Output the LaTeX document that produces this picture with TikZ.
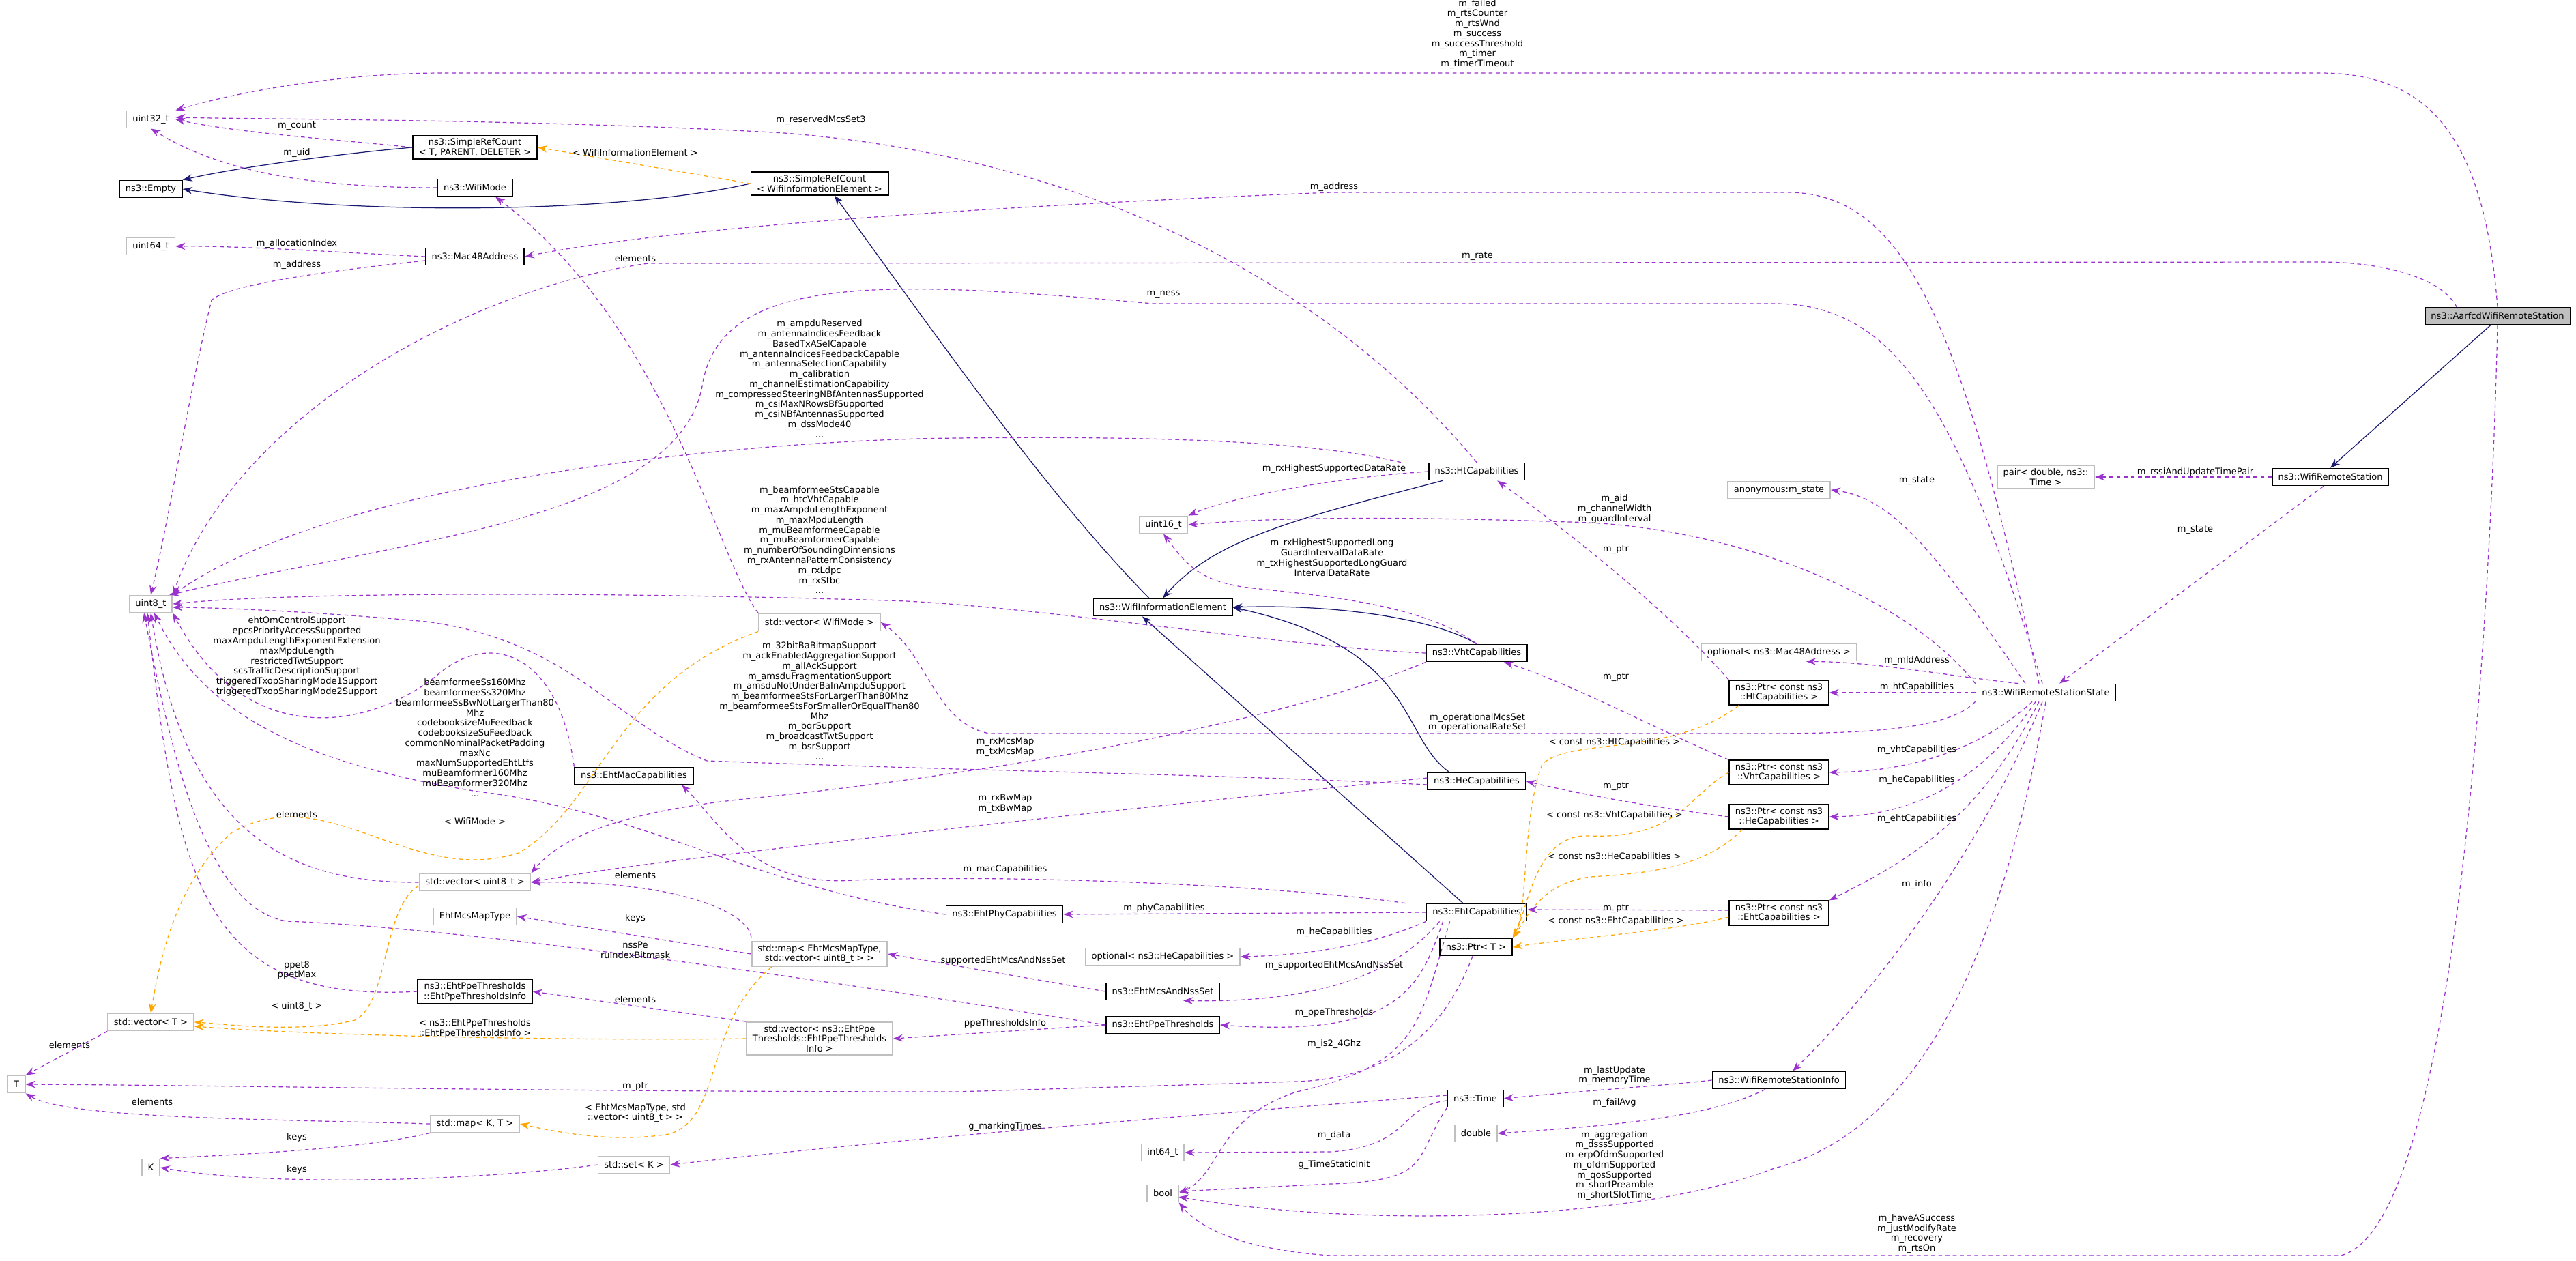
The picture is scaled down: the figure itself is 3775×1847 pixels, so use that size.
\documentclass[tikz,border=0pt]{standalone}
\usepackage{fontspec}
\setmainfont{DejaVu Sans}
\usetikzlibrary{arrows.meta}
\newcommand\fs{\fontsize{3.7}{4.2}\selectfont}
\definecolor{mpurple}{HTML}{9A32CD}
\definecolor{mnavy}{HTML}{191970}
\definecolor{morange}{HTML}{FFA500}
\definecolor{mgrayb}{HTML}{BFBFBF}
\tikzset{
 cls/.style={draw=black, line width=0.5pt, fill=white, font=\fs, align=center, inner xsep=2.5pt, inner ysep=1.2pt, minimum height=0.25cm},
 ext/.style={cls, draw=mgrayb},
 lbl/.style={font=\fs, align=center, inner sep=0pt},
 mem/.style={draw=mpurple, line width=0.35pt, dash pattern=on 1.6pt off 1.4pt, -{Stealth[length=4pt,width=3pt]}},
 inh/.style={draw=mnavy, line width=0.35pt, -{Stealth[length=4pt,width=3pt]}},
 tpl/.style={draw=morange, line width=0.35pt, dash pattern=on 1.6pt off 1.4pt, -{Stealth[length=4pt,width=3pt]}},
}
\begin{document}
\begin{tikzpicture}[x=0.01cm,y=-0.01cm]
\useasboundingbox (0,0) rectangle (3775,1847);
% nodes
\node[ext] (u32) at (221,175) {uint32\_t};
\node[cls] (empty) at (221,277) {ns3::Empty};
\node[cls] (srcT) at (696,216) {ns3::SimpleRefCount\\< T, PARENT, DELETER >};
\node[cls] (wmode) at (696,275) {ns3::WifiMode};
\node[cls] (srcW) at (1201,269) {ns3::SimpleRefCount\\< WifiInformationElement >};
\node[ext] (u64) at (221,361) {uint64\_t};
\node[cls] (mac) at (696,376) {ns3::Mac48Address};
\node[ext] (u8) at (221,885) {uint8\_t};
\node[ext] (u16) at (1705,769) {uint16\_t};
\node[cls] (ht) at (2164,691) {ns3::HtCapabilities};
\node[cls] (wie) at (1704,890) {ns3::WifiInformationElement};
\node[ext] (vecWM) at (1201,912) {std::vector< WifiMode >};
\node[cls] (ehtmac) at (929,1137) {ns3::EhtMacCapabilities};
\node[cls] (vht) at (2164,957) {ns3::VhtCapabilities};
\node[cls] (he) at (2164,1145) {ns3::HeCapabilities};
\node[ext] (vecU8) at (696,1293) {std::vector< uint8\_t >};
\node[ext] (mcsType) at (696,1343) {EhtMcsMapType};
\node[ext] (mapMcs) at (1201,1398) {std::map< EhtMcsMapType,\\std::vector< uint8\_t > >};
\node[cls] (ehtphy) at (1472,1340) {ns3::EhtPhyCapabilities};
\node[cls] (eht) at (2164,1337) {ns3::EhtCapabilities};
\node[ext] (optHe) at (1704,1402) {optional< ns3::HeCapabilities >};
\node[cls] (mcsNss) at (1704,1453) {ns3::EhtMcsAndNssSet};
\node[cls] (ppe) at (1704,1502) {ns3::EhtPpeThresholds};
\node[cls] (ppeInfo) at (696,1453) {ns3::EhtPpeThresholds\\::EhtPpeThresholdsInfo};
\node[ext] (vecT) at (221,1498) {std::vector< T >};
\node[ext] (vecPpe) at (1201,1522) {std::vector< ns3::EhtPpe\\Thresholds::EhtPpeThresholds\\Info >};
\node[ext] (T) at (24,1589) {T};
\node[ext] (mapKT) at (696,1647) {std::map< K, T >};
\node[ext] (K) at (221,1711) {K};
\node[ext] (setK) at (929,1707) {std::set< K >};
\node[cls] (ptrT) at (2163,1388) {ns3::Ptr< T >};
\node[cls] (time) at (2162,1610) {ns3::Time};
\node[ext] (dbl) at (2163,1661) {double};
\node[ext] (i64) at (1704,1689) {int64\_t};
\node[ext] (bool) at (1704,1749) {bool};
\node[ext] (anon) at (2607,718) {anonymous:m\_state};
\node[ext] (optMac) at (2607,956) {optional< ns3::Mac48Address >};
\node[cls] (pHt) at (2607,1015) {ns3::Ptr< const ns3\\::HtCapabilities >};
\node[cls] (pVht) at (2607,1132) {ns3::Ptr< const ns3\\::VhtCapabilities >};
\node[cls] (pHe) at (2607,1197) {ns3::Ptr< const ns3\\::HeCapabilities >};
\node[cls] (pEht) at (2607,1338) {ns3::Ptr< const ns3\\::EhtCapabilities >};
\node[cls] (info) at (2607,1583) {ns3::WifiRemoteStationInfo};
\node[cls] (wrss) at (2998,1015) {ns3::WifiRemoteStationState};
\node[ext] (pair) at (2998,699) {pair< double, ns3::\\Time >};
\node[cls] (wrs) at (3415,699) {ns3::WifiRemoteStation};
\node[cls, fill=mgrayb] (aarf) at (3660,463) {ns3::AarfcdWifiRemoteStation};

% inheritance
\draw[inh] (srcT.west) .. controls (500,225) and (350,245) .. (empty.north east);
\draw[inh] (srcW.west) .. controls (900,315) and (500,315) .. (empty.east);
\draw[inh] ([xshift=-0.2cm]wie.north) .. controls (1550,740) and (1420,560) .. ([xshift=0.22cm]srcW.south);
\draw[inh] ([xshift=-0.5cm]ht.south) .. controls (1900,760) and (1780,790) .. (wie.north);
\draw[inh] (vht.north) .. controls (2100,905) and (1950,885) .. (wie.east);
\draw[inh] ([xshift=-0.4cm]he.north) .. controls (2050,1080) and (2080,950) .. (wie.east);
\draw[inh] ([xshift=-0.2cm]eht.north) -- ([xshift=-0.3cm]wie.south);
\draw[inh] ([xshift=-0.1cm]aarf.south) -- (wrs.north);

% template instantiations
\draw[tpl] (srcW.west) -- (srcT.east);
\node[lbl] at (931,224) {< WifiInformationElement >};
\draw[tpl] (vecWM.south west) .. controls (900,1000) and (880,1180) .. (760,1250) .. controls (600,1300) and (480,1140) .. (340,1220) .. controls (260,1290) and (235,1400) .. (vecT.north);
\node[lbl] at (696,1204) {< WifiMode >};
\draw[tpl] ([yshift=-0.05cm]vecU8.west) .. controls (560,1330) and (570,1470) .. (520,1495) .. controls (440,1515) and (320,1500) .. (vecT.east);
\node[lbl] at (435,1475) {< uint8\_t >};
\draw[tpl] (vecPpe.west) .. controls (900,1525) and (500,1520) .. ([yshift=-0.06cm]vecT.east);
\node[lbl] at (696,1507) {< ns3::EhtPpeThresholds\\::EhtPpeThresholdsInfo >};
\draw[tpl] ([xshift=0.3cm]mapMcs.south west) .. controls (1030,1500) and (1060,1640) .. (980,1662) .. controls (900,1675) and (820,1660) .. (mapKT.east);
\node[lbl] at (931,1631) {< EhtMcsMapType, std\\::vector< uint8\_t > >};
\draw[tpl] ([xshift=0.15cm]pHt.south west) .. controls (2450,1110) and (2300,1080) .. (2260,1120) .. controls (2230,1200) and (2240,1330) .. (ptrT.north east);
\node[lbl] at (2366,1088) {< const ns3::HtCapabilities >};
\draw[tpl] (pVht.west) .. controls (2480,1160) and (2460,1230) .. (2330,1225) .. controls (2250,1220) and (2240,1330) .. (ptrT.north east);
\node[lbl] at (2366,1195) {< const ns3::VhtCapabilities >};
\draw[tpl] ([xshift=0.2cm]pHe.south west) .. controls (2500,1270) and (2420,1280) .. (2330,1285) .. controls (2260,1295) and (2240,1340) .. (ptrT.north east);
\node[lbl] at (2366,1256) {< const ns3::HeCapabilities >};
\draw[tpl] ([yshift=-0.06cm]pEht.west) .. controls (2450,1365) and (2300,1375) .. (ptrT.east);
\node[lbl] at (2368,1350) {< const ns3::EhtCapabilities >};

% members
\draw[mem] (aarf.north) .. controls (3640,200) and (3560,107) .. (3400,107) -- (650,107) .. controls (480,107) and (330,140) .. (u32.north east);
\node[lbl] at (2165,50) {m\_failed\\m\_rtsCounter\\m\_rtsWnd\\m\_success\\m\_successThreshold\\m\_timer\\m\_timerTimeout};
\draw[mem] (srcT.west) .. controls (500,205) and (350,195) .. (u32.east);
\node[lbl] at (435,184) {m\_count};
\draw[mem] (wmode.west) .. controls (450,275) and (320,250) .. (u32.south);
\node[lbl] at (435,224) {m\_uid};
\draw[mem] (ht.north) .. controls (1950,420) and (1600,230) .. (1150,195) .. controls (800,175) and (400,175) .. ([yshift=0.03cm]u32.east);
\node[lbl] at (1203,176) {m\_reservedMcsSet3};
\draw[mem] (mac.west) .. controls (500,370) and (350,360) .. (u64.east);
\node[lbl] at (435,357) {m\_allocationIndex};
\draw[mem] ([yshift=-0.06cm]mac.west) .. controls (450,400) and (330,420) .. (310,440) .. controls (280,560) and (250,750) .. (u8.north);
\node[lbl] at (435,388) {m\_address};
\draw[mem] ([xshift=-0.1cm]wrss.north) .. controls (2880,500) and (2800,282) .. (2620,282) -- (1950,282) .. controls (1500,300) and (1000,330) .. (mac.east);
\node[lbl] at (1955,274) {m\_address};
\draw[mem] ([xshift=-0.6cm]aarf.north) .. controls (3580,410) and (3500,384) .. (3400,384) -- (950,386) .. controls (700,420) and (350,600) .. (u8.north east);
\node[lbl] at (2165,375) {m\_rate};
\draw[mem] ([xshift=-0.05cm]wrss.north) .. controls (2870,600) and (2780,445) .. (2600,445) -- (1690,445) .. controls (1300,410) and (1060,400) .. (1030,560) .. controls (1000,760) and (600,790) .. ([xshift=-0.05cm]u8.north east);
\node[lbl] at (1705,431) {m\_ness};
\draw[mem] ([xshift=-0.4cm]ht.north west) .. controls (1900,640) and (1600,640) .. (1400,642) .. controls (1100,645) and (500,700) .. (u8.north east);
\node[lbl] at (1201,555) {m\_ampduReserved\\m\_antennaIndicesFeedback\\BasedTxASelCapable\\m\_antennaIndicesFeedbackCapable\\m\_antennaSelectionCapability\\m\_calibration\\m\_channelEstimationCapability\\m\_compressedSteeringNBfAntennasSupported\\m\_csiMaxNRowsBfSupported\\m\_csiNBfAntennasSupported\\m\_dssMode40\\...};
\draw[mem] (vecWM.north west) .. controls (1050,820) and (980,480) .. ([xshift=0.3cm]wmode.south);
\node[lbl] at (931,379) {elements};
\draw[mem] (ht.west) .. controls (1950,700) and (1800,730) .. (u16.north east);
\node[lbl] at (1955,687) {m\_rxHighestSupportedDataRate};
\draw[mem] (wrss.north west) .. controls (2800,880) and (2550,770) .. (2300,765) .. controls (2000,755) and (1850,760) .. (u16.east);
\node[lbl] at (2366,746) {m\_aid\\m\_channelWidth\\m\_guardInterval};
\draw[mem] (vht.north) .. controls (2080,880) and (1900,870) .. (1820,860) .. controls (1760,850) and (1740,830) .. (u16.south);
\node[lbl] at (1952,817) {m\_rxHighestSupportedLong\\GuardIntervalDataRate\\m\_txHighestSupportedLongGuard\\IntervalDataRate};
\draw[mem] (vht.west) .. controls (1900,950) and (1500,885) .. (1300,880) .. controls (800,865) and (400,870) .. (u8.east);
\node[lbl] at (1201,791) {m\_beamformeeStsCapable\\m\_htcVhtCapable\\m\_maxAmpduLengthExponent\\m\_maxMpduLength\\m\_muBeamformeeCapable\\m\_muBeamformerCapable\\m\_numberOfSoundingDimensions\\m\_rxAntennaPatternConsistency\\m\_rxLdpc\\m\_rxStbc\\...};
\draw[mem] ([yshift=-0.05cm]he.west) .. controls (1800,1135) and (1500,1132) .. (1036,1115) .. controls (900,1060) and (840,940) .. (625,911) .. controls (450,895) and (300,890) .. ([yshift=-0.05cm]u8.east);
\node[lbl] at (1201,1027) {m\_32bitBaBitmapSupport\\m\_ackEnabledAggregationSupport\\m\_allAckSupport\\m\_amsduFragmentationSupport\\m\_amsduNotUnderBaInAmpduSupport\\m\_beamformeeStsForLargerThan80Mhz\\m\_beamformeeStsForSmallerOrEqualThan80\\Mhz\\m\_bqrSupport\\m\_broadcastTwtSupport\\m\_bsrSupport\\...};
\draw[mem] (ehtmac.north west) .. controls (820,960) and (720,920) .. (640,990) .. controls (540,1070) and (360,1100) .. (u8.south east);
\node[lbl] at (435,962) {ehtOmControlSupport\\epcsPriorityAccessSupported\\maxAmpduLengthExponentExtension\\maxMpduLength\\restrictedTwtSupport\\scsTrafficDescriptionSupport\\triggeredTxopSharingMode1Support\\triggeredTxopSharingMode2Support};
\draw[mem] (ehtphy.west) .. controls (1100,1300) and (950,1190) .. (700,1160) .. controls (450,1120) and (300,1050) .. ([xshift=0.05cm]u8.south);
\node[lbl] at (696,1081) {beamformeeSs160Mhz\\beamformeeSs320Mhz\\beamformeeSsBwNotLargerThan80\\Mhz\\codebooksizeMuFeedback\\codebooksizeSuFeedback\\commonNominalPacketPadding\\maxNc\\maxNumSupportedEhtLtfs\\muBeamformer160Mhz\\muBeamformer320Mhz\\...};
\draw[mem] (vecU8.west) .. controls (400,1295) and (270,1200) .. (u8.south);
\node[lbl] at (435,1194) {elements};
\draw[mem] (ppeInfo.west) .. controls (300,1470) and (260,1300) .. ([xshift=-0.05cm]u8.south);
\node[lbl] at (435,1422) {ppet8\\ppetMax};
\draw[mem] (ppe.west) .. controls (1300,1450) and (700,1360) .. (420,1350) .. controls (300,1330) and (250,1100) .. ([xshift=-0.1cm]u8.south);
\node[lbl] at (931,1392) {nssPe\\ruIndexBitmask};
\draw[mem] ([yshift=0.05cm]mapMcs.north west) .. controls (1100,1340) and (1000,1290) .. (vecU8.east);
\node[lbl] at (931,1283) {elements};
\draw[mem] (mapMcs.west) -- (mcsType.east);
\node[lbl] at (931,1346) {keys};
\draw[mem] (vecPpe.north west) -- (ppeInfo.east);
\node[lbl] at (931,1465) {elements};
\draw[mem] (ppe.west) -- (vecPpe.east);
\node[lbl] at (1473,1500) {ppeThresholdsInfo};
\draw[mem] (mcsNss.west) -- (mapMcs.east);
\node[lbl] at (1470,1408) {supportedEhtMcsAndNssSet};
\draw[mem] ([xshift=-0.3cm]eht.north west) .. controls (1900,1300) and (1500,1280) .. (1250,1290) .. controls (1100,1300) and (1050,1200) .. ([xshift=0.7cm]ehtmac.south);
\node[lbl] at (1473,1274) {m\_macCapabilities};
\draw[mem] (eht.west) -- (ehtphy.east);
\node[lbl] at (1706,1331) {m\_phyCapabilities};
\draw[mem] (eht.south west) .. controls (2000,1390) and (1900,1400) .. (optHe.east);
\node[lbl] at (1955,1366) {m\_heCapabilities};
\draw[mem] ([xshift=0.2cm]eht.south west) .. controls (2050,1420) and (1950,1470) .. ([xshift=0.3cm]mcsNss.south);
\node[lbl] at (1955,1415) {m\_supportedEhtMcsAndNssSet};
\draw[mem] ([xshift=0.25cm]eht.south west) .. controls (2080,1450) and (2050,1520) .. (ppe.east);
\node[lbl] at (1955,1484) {m\_ppeThresholds};
\draw[mem] ([xshift=0.35cm]eht.south west) .. controls (2080,1500) and (2080,1560) .. (1900,1600) .. controls (1780,1640) and (1790,1720) .. (bool.east);
\node[lbl] at (1955,1530) {m\_is2\_4Ghz};
\draw[mem] (vecT.south west) -- (T.north east);
\node[lbl] at (102,1532) {elements};
\draw[mem] ([xshift=-0.05cm]ptrT.south) .. controls (2120,1500) and (2050,1580) .. (1900,1585) -- (1400,1600) .. controls (800,1600) and (300,1590) .. (T.east);
\node[lbl] at (931,1592) {m\_ptr};
\draw[mem] (mapKT.west) .. controls (400,1640) and (100,1640) .. (T.south east);
\node[lbl] at (223,1615) {elements};
\draw[mem] (mapKT.south west) .. controls (550,1680) and (400,1690) .. (K.north east);
\node[lbl] at (435,1667) {keys};
\draw[mem] (setK.west) .. controls (700,1730) and (400,1740) .. (K.east);
\node[lbl] at (435,1714) {keys};
\draw[mem] ([yshift=0.05cm]time.west) .. controls (1800,1630) and (1300,1670) .. (setK.east);
\node[lbl] at (1473,1651) {g\_markingTimes};
\draw[mem] ([yshift=-0.03cm]time.west) .. controls (2050,1620) and (2070,1680) .. (1950,1688) -- (i64.east);
\node[lbl] at (1955,1664) {m\_data};
\draw[mem] (time.south west) .. controls (2070,1700) and (2100,1730) .. (1950,1735) -- ([yshift=0.03cm]bool.east);
\node[lbl] at (1955,1707) {g\_TimeStaticInit};
\draw[mem] (info.west) .. controls (2450,1590) and (2300,1600) .. (time.east);
\node[lbl] at (2366,1576) {m\_lastUpdate\\m\_memoryTime};
\draw[mem] ([xshift=-0.2cm]info.south) .. controls (2500,1640) and (2350,1650) .. (dbl.east);
\node[lbl] at (2366,1616) {m\_failAvg};
\draw[mem] (wrss.south) .. controls (2950,1300) and (2850,1650) .. (2600,1712) .. controls (2400,1790) and (2000,1800) .. ([yshift=-0.05cm]bool.east);
\node[lbl] at (2366,1708) {m\_aggregation\\m\_dsssSupported\\m\_erpOfdmSupported\\m\_ofdmSupported\\m\_qosSupported\\m\_shortPreamble\\m\_shortSlotTime};
\draw[mem] (aarf.south) .. controls (3650,900) and (3600,1800) .. (3430,1840) -- (1950,1840) .. controls (1800,1830) and (1750,1790) .. (bool.south east);
\node[lbl] at (2809,1808) {m\_haveASuccess\\m\_justModifyRate\\m\_recovery\\m\_rtsOn};
\draw[mem] (pHt.north west) .. controls (2450,900) and (2300,780) .. ([xshift=0.3cm]ht.south);
\node[lbl] at (2368,805) {m\_ptr};
\draw[mem] (pVht.north west) .. controls (2450,1080) and (2300,1000) .. ([xshift=0.4cm]vht.south);
\node[lbl] at (2368,992) {m\_ptr};
\draw[mem] (pHe.west) .. controls (2400,1180) and (2300,1160) .. (he.east);
\node[lbl] at (2368,1152) {m\_ptr};
\draw[mem] ([yshift=0.04cm]pEht.west) -- ([yshift=0.04cm]eht.east);
\node[lbl] at (2368,1331) {m\_ptr};
\draw[mem] ([xshift=-0.3cm]wrss.north) .. controls (2850,830) and (2780,730) .. (anon.east);
\node[lbl] at (2809,704) {m\_state};
\draw[mem] ([xshift=-0.4cm]wrss.north) .. controls (2850,990) and (2750,970) .. ([xshift=0.4cm]optMac.south);
\node[lbl] at (2809,968) {m\_mldAddress};
\draw[mem] (wrss.west) -- (pHt.east);
\node[lbl] at (2809,1007) {m\_htCapabilities};
\draw[mem] ([xshift=-0.2cm]wrss.south) .. controls (2900,1100) and (2800,1130) .. (pVht.east);
\node[lbl] at (2809,1099) {m\_vhtCapabilities};
\draw[mem] ([xshift=-0.15cm]wrss.south) .. controls (2900,1150) and (2800,1195) .. (pHe.east);
\node[lbl] at (2809,1143) {m\_heCapabilities};
\draw[mem] ([xshift=-0.1cm]wrss.south) .. controls (2900,1200) and (2800,1260) .. (pEht.north east);
\node[lbl] at (2809,1200) {m\_ehtCapabilities};
\draw[mem] ([xshift=-0.05cm]wrss.south) .. controls (2900,1250) and (2750,1450) .. ([xshift=0.2cm]info.north);
\node[lbl] at (2809,1296) {m\_info};
\draw[mem] (wrss.south west) .. controls (2850,1075) and (2700,1075) .. (2550,1075) -- (1450,1075) .. controls (1370,1060) and (1360,960) .. (vecWM.east);
\node[lbl] at (2165,1059) {m\_operationalMcsSet\\m\_operationalRateSet};
\draw[mem] (vht.south west) .. controls (1900,1050) and (1500,1130) .. (1100,1170) .. controls (900,1190) and (820,1230) .. (vecU8.north east);
\node[lbl] at (1473,1095) {m\_rxMcsMap\\m\_txMcsMap};
\draw[mem] ([yshift=0.05cm]he.west) .. controls (1900,1160) and (1500,1200) .. (1000,1260) .. controls (880,1275) and (820,1285) .. (vecU8.east);
\node[lbl] at (1473,1178) {m\_rxBwMap\\m\_txBwMap};
\draw[mem] (wrs.west) -- (pair.east);
\node[lbl] at (3217,692) {m\_rssiAndUpdateTimePair};
\draw[mem] ([xshift=-0.1cm]wrs.south) -- ([xshift=0.2cm]wrss.north);
\node[lbl] at (3217,776) {m\_state};
\end{tikzpicture}
\end{document}
